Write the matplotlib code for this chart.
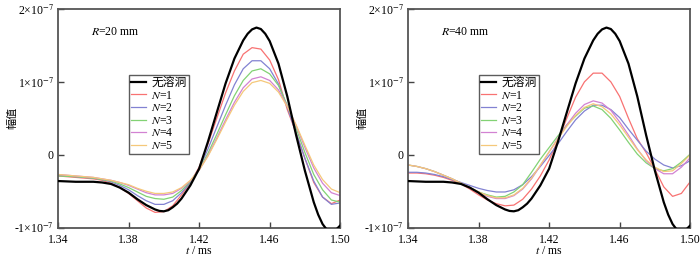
import numpy as np
import matplotlib
matplotlib.use("Agg")
import matplotlib.pyplot as plt

plt.rcParams['font.family'] = ['Liberation Serif', 'Noto Sans CJK SC']
plt.rcParams['mathtext.fontset'] = 'stix'

# time axis (ms), values in units of 1e-7
T = [1.340, 1.345, 1.350, 1.355, 1.360, 1.365, 1.370, 1.375, 1.380, 1.385, 1.390,
     1.395, 1.400, 1.405, 1.410, 1.415, 1.420, 1.425, 1.430, 1.435, 1.440, 1.445,
     1.450, 1.455, 1.460, 1.465, 1.470, 1.475, 1.480, 1.485, 1.490, 1.495, 1.500]

# no-cave reference curve (same in both panels), read on a finer grid
T_BLACK = [1.340, 1.350, 1.360, 1.365, 1.370, 1.375, 1.380, 1.385, 1.390, 1.395, 1.3975,
           1.400, 1.4025, 1.405, 1.4075, 1.410, 1.415, 1.420, 1.425, 1.430, 1.435, 1.440,
           1.445, 1.4475, 1.450, 1.4525, 1.455, 1.4575, 1.460, 1.465, 1.470, 1.475, 1.480,
           1.485, 1.4875, 1.490, 1.4925, 1.495, 1.4975, 1.500]
NO_CAVE = [-0.36, -0.37, -0.37, -0.38, -0.40, -0.45, -0.52, -0.61, -0.69, -0.75, -0.77,
           -0.775, -0.76, -0.72, -0.67, -0.60, -0.42, -0.19, 0.18, 0.58, 0.98, 1.32,
           1.57, 1.66, 1.72, 1.745, 1.725, 1.66, 1.56, 1.25, 0.80, 0.27, -0.22,
           -0.65, -0.82, -0.95, -1.03, -1.05, -1.03, -0.97]

# R = 20 mm
L_N1 = [-0.29, -0.30, -0.31, -0.32, -0.33, -0.35, -0.39, -0.45, -0.53, -0.63, -0.73,
        -0.79, -0.78, -0.70, -0.55, -0.38, -0.17, 0.15, 0.50, 0.85, 1.15, 1.38,
        1.47, 1.45, 1.30, 1.03, 0.62, 0.30, -0.05, -0.38, -0.58, -0.67, -0.62]
L_N2 = [-0.28, -0.29, -0.30, -0.31, -0.32, -0.34, -0.37, -0.42, -0.48, -0.56, -0.63,
        -0.68, -0.68, -0.63, -0.52, -0.38, -0.19, 0.08, 0.38, 0.68, 0.96, 1.18,
        1.29, 1.29, 1.18, 0.97, 0.65, 0.30, -0.05, -0.36, -0.58, -0.68, -0.66]
L_N3 = [-0.29, -0.295, -0.30, -0.31, -0.32, -0.34, -0.36, -0.40, -0.45, -0.51, -0.57,
        -0.60, -0.61, -0.58, -0.49, -0.37, -0.20, 0.02, 0.28, 0.55, 0.81, 1.02,
        1.15, 1.18, 1.11, 0.95, 0.68, 0.36, 0.03, -0.27, -0.48, -0.62, -0.65]
L_N4 = [-0.27, -0.28, -0.29, -0.30, -0.31, -0.33, -0.35, -0.38, -0.42, -0.47, -0.52,
        -0.55, -0.55, -0.53, -0.46, -0.36, -0.21, -0.01, 0.23, 0.48, 0.72, 0.92,
        1.04, 1.07, 1.02, 0.89, 0.67, 0.40, 0.10, -0.18, -0.39, -0.52, -0.56]
L_N5 = [-0.27, -0.28, -0.29, -0.30, -0.31, -0.33, -0.35, -0.38, -0.41, -0.46, -0.50,
        -0.53, -0.53, -0.51, -0.45, -0.35, -0.21, -0.02, 0.21, 0.45, 0.68, 0.87,
        0.99, 1.02, 0.98, 0.86, 0.66, 0.41, 0.13, -0.14, -0.34, -0.47, -0.52]

# R = 40 mm
R_N1 = [-0.25, -0.25, -0.26, -0.28, -0.31, -0.35, -0.40, -0.47, -0.55, -0.62, -0.67,
        -0.70, -0.69, -0.61, -0.47, -0.29, -0.07, 0.20, 0.50, 0.79, 1.00, 1.12,
        1.12, 1.00, 0.80, 0.50, 0.22, 0.03, -0.20, -0.44, -0.57, -0.53, -0.37]
R_N2 = [-0.24, -0.24, -0.25, -0.27, -0.30, -0.34, -0.38, -0.42, -0.46, -0.49, -0.51,
        -0.51, -0.48, -0.41, -0.30, -0.16, -0.01, 0.15, 0.32, 0.48, 0.60, 0.68,
        0.68, 0.62, 0.51, 0.35, 0.20, 0.05, -0.06, -0.14, -0.18, -0.15, -0.08]
R_N3 = [-0.14, -0.16, -0.19, -0.23, -0.28, -0.33, -0.39, -0.45, -0.51, -0.55, -0.58,
        -0.57, -0.51, -0.41, -0.24, -0.06, 0.10, 0.26, 0.41, 0.53, 0.64, 0.67,
        0.62, 0.50, 0.34, 0.17, 0.01, -0.11, -0.19, -0.22, -0.19, -0.10, 0.01]
R_N4 = [-0.14, -0.16, -0.19, -0.23, -0.28, -0.33, -0.39, -0.45, -0.52, -0.57, -0.60,
        -0.60, -0.56, -0.47, -0.33, -0.15, 0.04, 0.23, 0.41, 0.57, 0.69, 0.74,
        0.71, 0.61, 0.45, 0.27, 0.08, -0.08, -0.19, -0.26, -0.26, -0.17, -0.04]
R_N5 = [-0.14, -0.16, -0.19, -0.23, -0.28, -0.33, -0.39, -0.45, -0.51, -0.56, -0.59,
        -0.59, -0.55, -0.46, -0.32, -0.14, 0.04, 0.22, 0.39, 0.54, 0.65, 0.70,
        0.66, 0.56, 0.41, 0.24, 0.07, -0.07, -0.17, -0.23, -0.22, -0.12, 0.00]

LABELS = ['无溶洞', '$\\it{N}$=1', '$\\it{N}$=2', '$\\it{N}$=3', '$\\it{N}$=4', '$\\it{N}$=5']
COLORS = ['black', '#f87272', '#8282d2', '#82d274', '#d282d2', '#f5c87a']
XTICKS = [1.34, 1.38, 1.42, 1.46, 1.50]
YTICKS = [-1e-7, 0, 1e-7, 2e-7]
YTICKLABELS = ['-1×10$^{-7}$', '0', '1×10$^{-7}$', '2×10$^{-7}$']

panels = [("$\\it{R}$=20 mm", [L_N1, L_N2, L_N3, L_N4, L_N5]),
          ("$\\it{R}$=40 mm", [R_N1, R_N2, R_N3, R_N4, R_N5])]

fig = plt.figure(figsize=(7.0, 2.57), dpi=100)
lefts = [0.083, 0.583]
t = np.array(T)
for (title, series), left in zip(panels, lefts):
    ax = fig.add_axes([left, 0.114, 0.403, 0.851])
    ax.plot(np.array(T_BLACK), np.array(NO_CAVE) * 1e-7, color=COLORS[0], lw=1.6,
            label=LABELS[0], zorder=3)
    for i, s in enumerate(series):
        ax.plot(t, np.array(s) * 1e-7, color=COLORS[i + 1], lw=0.9,
                label=LABELS[i + 1], zorder=2)
    ax.set_xlim(1.34, 1.50)
    ax.set_ylim(-1e-7, 2e-7)
    ax.set_xticks(XTICKS)
    ax.set_xticklabels(['%.2f' % v for v in XTICKS])
    ax.set_yticks(YTICKS)
    ax.set_yticklabels(YTICKLABELS)
    ax.tick_params(direction='in', length=4, width=1, labelsize=8.5, color='#444444', pad=3)
    ax.tick_params(axis='x', pad=4.5)
    for sp in ax.spines.values():
        sp.set_color('#555555')
        sp.set_linewidth(1.3)
    ax.set_xlabel('$\\it{t}$ / ms', fontsize=8.5, labelpad=-1)
    ax.set_ylabel('幅值', fontsize=8)
    ax.yaxis.set_label_coords(-0.145, 0.5)
    ax.text(0.118, 0.895, title, transform=ax.transAxes, fontsize=8.5, va='center')
    leg = ax.legend(loc='upper left', bbox_to_anchor=(0.25, 0.70), fontsize=8.5,
                    frameon=True, fancybox=False, handlelength=1.3, handletextpad=0.4,
                    borderpad=0.2, labelspacing=0.05, borderaxespad=0)
    leg.get_frame().set_edgecolor('#333333')
    leg.get_frame().set_linewidth(1.0)

fig.savefig('out.png', dpi=100)
